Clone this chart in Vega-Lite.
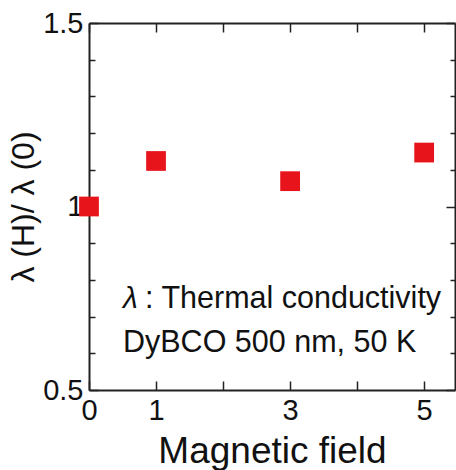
{
  "$schema": "https://vega.github.io/schema/vega-lite/v6.json",
  "width": 366,
  "height": 367,
  "autosize": "none",
  "padding": {"left": 89, "top": 23, "right": 1, "bottom": 80},
  "background": "white",
  "config": {
    "font": "Liberation Sans",
    "view": {"stroke": null},
    "axis": {"grid": false, "domainColor": "#222", "domainWidth": 2, "tickColor": "#222", "tickWidth": 1.5, "labelColor": "#111", "titleColor": "#111", "labelFont": "Liberation Sans", "titleFont": "Liberation Sans", "titleFontWeight": "normal"}
  },
  "datasets": {
    "pts": [
      {"field": 0, "ratio": 1.0},
      {"field": 1, "ratio": 1.124},
      {"field": 3, "ratio": 1.069},
      {"field": 5, "ratio": 1.147}
    ]
  },
  "layer": [
    {
      "data": {"name": "pts"},
      "mark": {"type": "square", "color": "#e8141c", "size": 390, "opacity": 1},
      "encoding": {
        "x": {"field": "field", "type": "quantitative",
          "scale": {"domain": [0, 5.46], "nice": false, "zero": false},
          "axis": {"orient": "bottom", "values": [0, 1, 2, 3, 4, 5], "labelExpr": "indexof([0,1,3,5], datum.value) >= 0 ? datum.label : ''", "tickSize": -9, "labelPadding": 15, "labelFontSize": 29, "labelFlush": false, "labelOverlap": false, "title": "Magnetic field", "titleFontSize": 37, "titlePadding": 8}},
        "y": {"field": "ratio", "type": "quantitative",
          "scale": {"domain": [0.5, 1.5], "nice": false, "zero": false},
          "axis": {"orient": "left", "values": [0.5, 0.6, 0.7, 0.8, 0.9, 1, 1.1, 1.2, 1.3, 1.4, 1.5], "format": "~g", "labelExpr": "indexof([0.5,1,1.5], datum.value) >= 0 ? datum.label : ''", "tickSize": {"condition": {"test": "indexof([0.5,1,1.5], datum.value) >= 0", "value": -9}, "value": -6}, "labelPadding": 15, "labelFontSize": 29, "labelFlush": false, "labelOverlap": false, "title": "λ (H)/ λ (0)", "titleFontSize": 32, "titlePadding": 2}}
      }
    },
    {
      "data": {"name": "pts"},
      "mark": {"type": "square", "color": "#e8141c", "size": 390, "opacity": 0},
      "encoding": {
        "x": {"field": "field", "type": "quantitative",
          "axis": {"orient": "top", "values": [0, 1, 2, 3, 4, 5], "tickSize": -9, "labels": false, "title": null}},
        "y": {"field": "ratio", "type": "quantitative",
          "axis": {"orient": "right", "values": [0.5, 0.6, 0.7, 0.8, 0.9, 1, 1.1, 1.2, 1.3, 1.4, 1.5], "tickSize": {"condition": {"test": "indexof([0.5,1,1.5], datum.value) >= 0", "value": -9}, "value": -5}, "labels": false, "title": null}}
      }
    },
    {
      "data": {"values": [{"field": 0.507, "ratio": 0.723, "label": "λ"}]},
      "mark": {"type": "text", "align": "left", "baseline": "alphabetic", "fontSize": 30, "fontStyle": "italic", "color": "#111"},
      "encoding": {
        "x": {"field": "field", "type": "quantitative", "axis": null},
        "y": {"field": "ratio", "type": "quantitative", "axis": null},
        "text": {"field": "label"}
      }
    },
    {
      "data": {"values": [
        {"field": 0.836, "ratio": 0.723, "label": ": Thermal conductivity"},
        {"field": 0.507, "ratio": 0.604, "label": "DyBCO 500 nm, 50 K"}
      ]},
      "mark": {"type": "text", "align": "left", "baseline": "alphabetic", "fontSize": 30.5, "color": "#111"},
      "encoding": {
        "x": {"field": "field", "type": "quantitative", "axis": null},
        "y": {"field": "ratio", "type": "quantitative", "axis": null},
        "text": {"field": "label"}
      }
    }
  ],
  "resolve": {"axis": {"x": "independent", "y": "independent"}}
}
